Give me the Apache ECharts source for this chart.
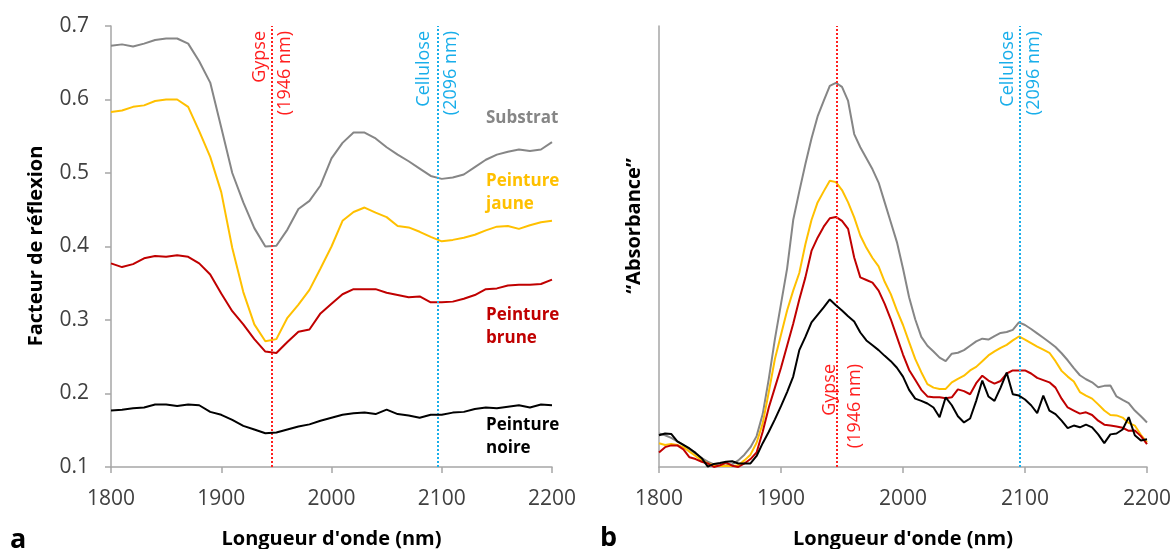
<!DOCTYPE html>
<html><head><meta charset="utf-8">
<script src="https://cdn.jsdelivr.net/npm/echarts@6/dist/echarts.min.js"></script>
<style>html,body{margin:0;padding:0;background:#fff}#c{width:1175px;height:549px}</style>
</head><body><div id="c"></div>
<script>
// ---- Panel a : reflectance (10 nm sampling) ----
const wlA = [1800,1810,1820,1830,1840,1850,1860,1870,1880,1890,1900,1910,1920,1930,1940,1950,1960,1970,1980,1990,2000,2010,2020,2030,2040,2050,2060,2070,2080,2090,2100,2110,2120,2130,2140,2150,2160,2170,2180,2190,2200];
const reflSubstrat = [0.673,0.675,0.672,0.676,0.681,0.683,0.683,0.676,0.652,0.623,0.562,0.500,0.460,0.425,0.400,0.401,0.423,0.451,0.462,0.483,0.520,0.541,0.555,0.555,0.547,0.535,0.525,0.516,0.506,0.496,0.492,0.494,0.498,0.508,0.518,0.525,0.529,0.532,0.530,0.532,0.542];
const reflJaune = [0.583,0.585,0.590,0.592,0.598,0.600,0.600,0.590,0.557,0.522,0.474,0.398,0.338,0.294,0.271,0.274,0.303,0.321,0.341,0.370,0.400,0.435,0.447,0.453,0.446,0.440,0.428,0.426,0.420,0.413,0.407,0.409,0.412,0.416,0.422,0.427,0.428,0.424,0.429,0.433,0.435];
const reflBrune = [0.377,0.372,0.376,0.384,0.387,0.386,0.388,0.386,0.377,0.362,0.336,0.312,0.294,0.274,0.257,0.255,0.270,0.284,0.287,0.309,0.322,0.335,0.342,0.342,0.342,0.337,0.334,0.331,0.332,0.324,0.324,0.325,0.329,0.334,0.342,0.343,0.347,0.348,0.348,0.349,0.355];
const reflNoire = [0.177,0.178,0.180,0.181,0.185,0.185,0.183,0.185,0.184,0.175,0.171,0.164,0.156,0.151,0.146,0.147,0.151,0.155,0.158,0.163,0.167,0.171,0.173,0.174,0.172,0.178,0.172,0.170,0.167,0.171,0.171,0.174,0.175,0.179,0.181,0.180,0.182,0.184,0.181,0.185,0.184];

// ---- Panel b : "absorbance" (5 nm sampling, arbitrary units) ----
const wlB = [1800,1805,1810,1815,1820,1825,1830,1835,1840,1845,1850,1855,1860,1865,1870,1875,1880,1885,1890,1895,1900,1905,1910,1915,1920,1925,1930,1935,1940,1945,1950,1955,1960,1965,1970,1975,1980,1985,1990,1995,2000,2005,2010,2015,2020,2025,2030,2035,2040,2045,2050,2055,2060,2065,2070,2075,2080,2085,2090,2095,2100,2105,2110,2115,2120,2125,2130,2135,2140,2145,2150,2155,2160,2165,2170,2175,2180,2185,2190,2195,2200];
const absSubstrat = [0.076,0.072,0.066,0.058,0.050,0.040,0.030,0.020,0.012,0.006,0.003,0.004,0.006,0.015,0.028,0.045,0.070,0.120,0.200,0.290,0.370,0.450,0.560,0.625,0.687,0.745,0.795,0.830,0.864,0.871,0.862,0.830,0.755,0.725,0.700,0.675,0.645,0.600,0.555,0.510,0.450,0.385,0.335,0.295,0.275,0.262,0.248,0.240,0.257,0.259,0.265,0.275,0.285,0.291,0.289,0.297,0.304,0.306,0.311,0.328,0.322,0.313,0.303,0.293,0.283,0.272,0.258,0.242,0.224,0.208,0.199,0.192,0.181,0.184,0.185,0.160,0.152,0.145,0.128,0.115,0.101];
const absJaune = [0.054,0.050,0.052,0.050,0.045,0.035,0.025,0.015,0.008,0.004,0.002,0.003,0.002,0.004,0.015,0.028,0.055,0.099,0.170,0.245,0.300,0.355,0.400,0.440,0.505,0.560,0.600,0.625,0.649,0.646,0.628,0.600,0.566,0.525,0.497,0.474,0.455,0.420,0.392,0.355,0.322,0.283,0.245,0.215,0.188,0.180,0.177,0.177,0.192,0.200,0.207,0.219,0.227,0.240,0.253,0.262,0.270,0.277,0.287,0.296,0.289,0.281,0.273,0.266,0.259,0.240,0.218,0.205,0.194,0.170,0.162,0.155,0.142,0.128,0.118,0.117,0.112,0.100,0.094,0.073,0.056];
const absBrune = [0.033,0.045,0.049,0.049,0.040,0.022,0.018,0.012,0.008,0.000,0.004,0.010,0.003,0.000,0.008,0.018,0.033,0.080,0.135,0.180,0.225,0.275,0.325,0.380,0.430,0.490,0.520,0.545,0.564,0.567,0.558,0.540,0.475,0.430,0.424,0.418,0.400,0.370,0.335,0.295,0.255,0.220,0.198,0.175,0.160,0.158,0.158,0.156,0.158,0.176,0.172,0.165,0.190,0.207,0.196,0.189,0.195,0.212,0.219,0.219,0.219,0.212,0.202,0.197,0.192,0.180,0.155,0.135,0.128,0.121,0.124,0.118,0.105,0.096,0.094,0.092,0.089,0.082,0.083,0.070,0.052];
const absNoire = [0.072,0.076,0.075,0.058,0.050,0.042,0.032,0.020,0.001,0.007,0.009,0.012,0.013,0.008,0.008,0.008,0.025,0.054,0.080,0.108,0.138,0.170,0.205,0.265,0.295,0.328,0.345,0.362,0.380,0.367,0.355,0.342,0.330,0.305,0.287,0.276,0.265,0.252,0.240,0.225,0.205,0.175,0.155,0.150,0.144,0.135,0.113,0.158,0.140,0.115,0.101,0.110,0.150,0.196,0.160,0.150,0.180,0.214,0.165,0.162,0.153,0.140,0.122,0.162,0.128,0.120,0.105,0.088,0.094,0.090,0.096,0.090,0.074,0.054,0.074,0.076,0.085,0.113,0.072,0.060,0.063];

const seriesNames = ['Substrat','Peinture jaune','Peinture brune','Peinture noire'];
const seriesLabels = ['Substrat','Peinture\njaune','Peinture\nbrune','Peinture\nnoire'];
const markerNm = [1946, 2096];
const markerName = ['Gypse','Cellulose'];
const xTitle = "Longueur d'onde (nm)";
const yTitleA = 'Facteur de réflexion';
const yTitleB = '“Absorbance”';

const COLORS = ['#868686','#ffc000','#c00000','#000000'];
const RED = '#ff1f1f', BLUE = '#19aeea';
const FONT = '"Open Sans", Lato, sans-serif';
const AXIS = '#a6a6a6';

function pairs(x, y){ return x.map((v,i)=>[v,y[i]]); }

const chart = echarts.init(document.getElementById('c'));

function xAx(gi){
  return {gridIndex:gi,type:'value',min:1800,max:2200,interval:100,
    axisLine:{lineStyle:{color:AXIS,width:1.5}},
    axisTick:{show:true,length:6,lineStyle:{color:AXIS,width:1.5}},
    axisLabel:{color:'#404040',fontSize:21,fontFamily:FONT,margin:22,formatter:v=>String(v)},
    splitLine:{show:false}};
}
function mlItem(x, color){
  return {xAxis:x,lineStyle:{color:color,type:[2,2],width:2},label:{show:false}};
}

const reflData = [reflSubstrat, reflJaune, reflBrune, reflNoire];
const absData = [absSubstrat, absJaune, absBrune, absNoire];
const series = [];
reflData.forEach((d,i)=>{
  series.push({name:seriesNames[i],type:'line',xAxisIndex:0,yAxisIndex:0,data:pairs(wlA,d),
    showSymbol:false,symbol:'none',lineStyle:{width:2,color:COLORS[i]},itemStyle:{color:COLORS[i]},z:2+i});
});
absData.forEach((d,i)=>{
  series.push({name:seriesNames[i]+' b',type:'line',xAxisIndex:1,yAxisIndex:1,data:pairs(wlB,d),
    showSymbol:false,symbol:'none',lineStyle:{width:2,color:COLORS[i]},itemStyle:{color:COLORS[i]},z:2+i});
});
[3,7].forEach(si=>{
  series[si].markLine = {silent:true,symbol:['none','none'],animation:false,
    data:[mlItem(markerNm[0],RED), mlItem(markerNm[1],BLUE)]};
});

chart.setOption({
  animation:false,
  backgroundColor:'#fff',
  grid:[{left:111,right:623,top:26,bottom:82},{left:659,right:28,top:26,bottom:82}],
  xAxis:[xAx(0),xAx(1)],
  yAxis:[
    {gridIndex:0,type:'value',min:0.1,max:0.7,interval:0.1,
     axisLine:{show:true,lineStyle:{color:AXIS,width:1.5}},
     axisTick:{show:true,length:6,lineStyle:{color:AXIS,width:1.5}},
     axisLabel:{color:'#404040',fontSize:21,fontFamily:FONT,margin:22,formatter:v=>v.toFixed(1)},
     splitLine:{show:false}},
    {gridIndex:1,type:'value',min:0,max:1,
     axisLine:{show:true,lineStyle:{color:AXIS,width:1.5}},
     axisTick:{show:false},axisLabel:{show:false},splitLine:{show:false}}
  ],
  series:series
});

// ---- text annotations (titles, series labels, marker labels) ----
function txt(t, x, y, opt){
  const o = Object.assign({align:'center',vAlign:'middle',rot:0,font:'18px '+FONT,fill:'#000',lh:null}, opt||{});
  const st = {text:t,x:0,y:0,font:o.font,fill:o.fill,align:o.align,textAlign:o.align,verticalAlign:o.vAlign,textVerticalAlign:o.vAlign};
  if (o.lh) st.lineHeight = o.lh;
  return {type:'text',x:x,y:y,rotation:o.rot,silent:true,z:100,style:st};
}
const g = [];
const BOLD = 'bold 20px '+FONT;
const pxA = markerNm.map(v=>chart.convertToPixel({xAxisIndex:0}, v));
const pxB = markerNm.map(v=>chart.convertToPixel({xAxisIndex:1}, v));
const cxA = (chart.convertToPixel({xAxisIndex:0},1800)+chart.convertToPixel({xAxisIndex:0},2200))/2;
const cxB = (chart.convertToPixel({xAxisIndex:1},1800)+chart.convertToPixel({xAxisIndex:1},2200))/2;
g.push(txt(xTitle, cxA, 539, {font:BOLD}));
g.push(txt(xTitle, cxB, 539, {font:BOLD}));
g.push(txt(yTitleA, 36, 246, {font:BOLD, rot:Math.PI/2}));
g.push(txt(yTitleB, 634, 226, {font:BOLD, rot:Math.PI/2}));
// marker labels (rotated, end of text at the top)
const MF = '18px '+FONT;
const R90 = {rot:Math.PI/2, align:'right', font:MF};
g.push(txt(markerName[0], pxA[0]-12, 31, Object.assign({fill:RED},R90)));
g.push(txt('('+markerNm[0]+' nm)', pxA[0]+13, 31, Object.assign({fill:RED},R90)));
g.push(txt(markerName[1], pxA[1]-13, 31, Object.assign({fill:BLUE},R90)));
g.push(txt('('+markerNm[1]+' nm)', pxA[1]+14, 31, Object.assign({fill:BLUE},R90)));
g.push(txt(markerName[0], pxB[0]-7, 364, Object.assign({fill:RED},R90)));
g.push(txt('('+markerNm[0]+' nm)', pxB[0]+18, 364, Object.assign({fill:RED},R90)));
g.push(txt(markerName[1], pxB[1]-12, 31, Object.assign({fill:BLUE},R90)));
g.push(txt('('+markerNm[1]+' nm)', pxB[1]+14, 31, Object.assign({fill:BLUE},R90)));
// series labels
const lblPos = [[486,118],[486,181],[486,315],[486,425]];
seriesLabels.forEach((t,i)=>{
  g.push(txt(t, lblPos[i][0], lblPos[i][1]-11.5, {align:'left', vAlign:'top', font:'bold 17px '+FONT, fill:COLORS[i], lh:23}));
});
g.push(txt('a', 10, 540, {align:'left', font:'bold 27px '+FONT}));
g.push(txt('b', 600, 538, {align:'left', font:'bold 27px '+FONT}));
chart.setOption({graphic:g});
</script></body></html>
